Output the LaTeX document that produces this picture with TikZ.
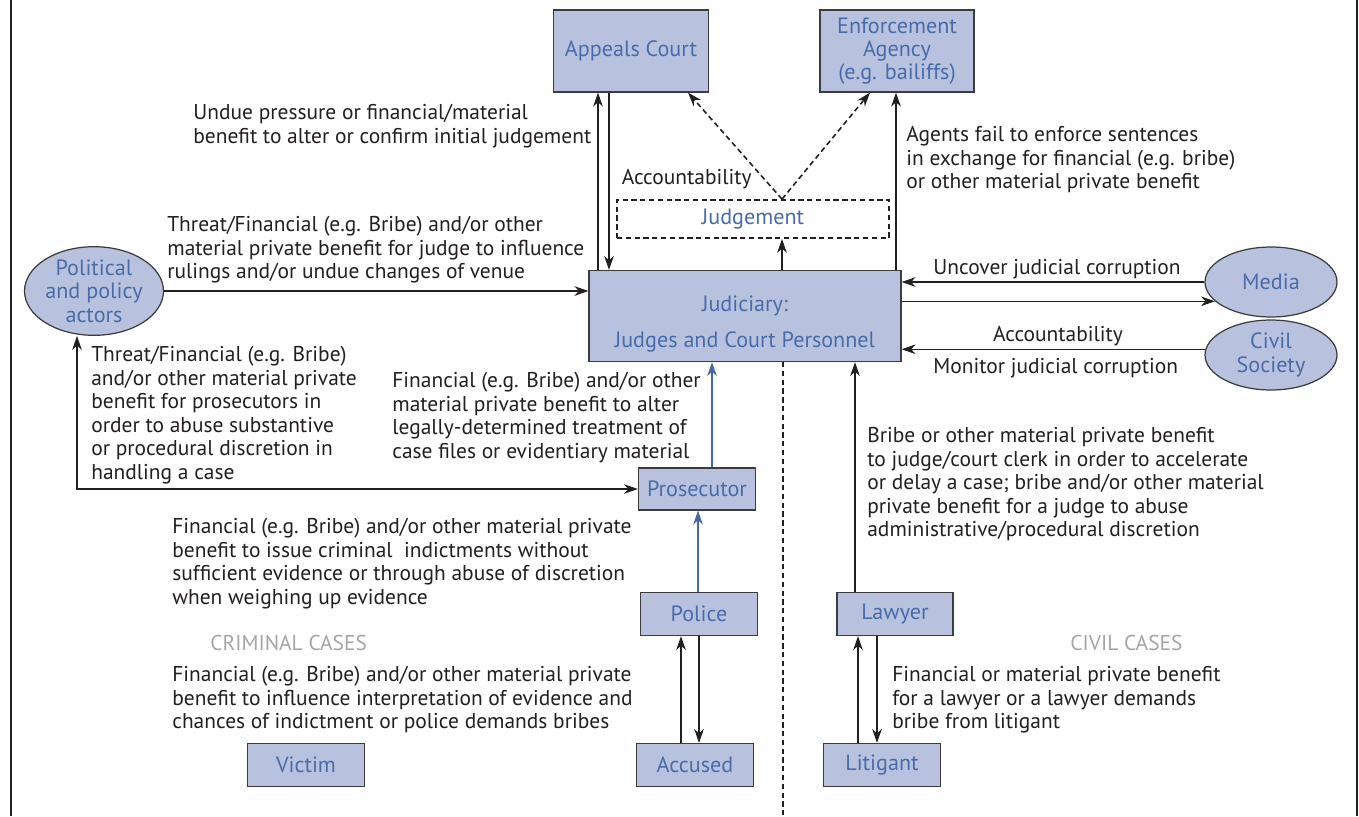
\documentclass[tikz,border=0pt]{standalone}
\usepackage{fontspec}
\setmainfont{PT Sans}
\usetikzlibrary{arrows.meta,shapes.geometric}
\definecolor{boxfill}{RGB}{184,194,222}
\definecolor{boxtext}{RGB}{72,108,170}
\definecolor{boxline}{RGB}{60,60,62}
\definecolor{inktext}{RGB}{35,31,32}
\definecolor{casegray}{RGB}{165,165,165}
\definecolor{flowblue}{RGB}{70,105,165}
\begin{document}
\begin{tikzpicture}[x=0.02cm,y=-0.02cm,
 actor/.style={draw=boxline,fill=boxfill,text=boxtext,line width=0.7pt,font=\fontsize{12.6}{13.3}\selectfont,align=center,inner sep=0,minimum width=2.34cm,minimum height=0.86cm},
 roundactor/.style={actor,ellipse,minimum width=2.64cm,minimum height=1.4cm},
 note/.style={text=inktext,font=\fontsize{12.2}{13.4}\selectfont,align=left,anchor=north west,inner sep=0},
 casenote/.style={text=casegray,font=\fontsize{12.2}{13.4}\selectfont,anchor=west,inner sep=0},
 flow/.style={draw=inktext,line width=0.6pt,-{Stealth[length=8pt,width=5.5pt]}},
 blueflow/.style={flow,draw=flowblue,-{Stealth[length=8pt,width=5.5pt,flowblue]}},
 twoflow/.style={flow,{Stealth[length=8pt,width=5.5pt]}-{Stealth[length=8pt,width=5.5pt]}},
 dashflow/.style={flow,line width=0.9pt,dash pattern=on 3pt off 2pt}]
 \useasboundingbox (0,0) rectangle (1359,816);
 \draw[line width=1.2pt,inktext] (11,0) -- (11,816);
 \draw[line width=1.2pt,inktext] (1357,0) -- (1357,816);

 \node[actor,minimum width=3.1cm,minimum height=1.64cm] (appeals) at (631,51) {Appeals Court};
 \node[actor,minimum width=3.08cm,minimum height=1.64cm] (enforcement) at (897,51) {Enforcement\\Agency\\(e.g. bailiffs)};
 \node[actor,fill=none,draw=inktext,line width=1pt,dash pattern=on 3pt off 2pt,minimum width=5.44cm,minimum height=0.76cm] (judgement) at (753,219) {Judgement};
 \node[actor,minimum width=6.24cm,minimum height=1.82cm] (judiciary) at (745,316) {\rule{0pt}{18pt}Judiciary:\\[7pt]Judges and Court Personnel};
 \node[roundactor,minimum width=2.78cm,minimum height=1.66cm] (political) at (94,291) {Political\\and policy\\actors};
 \node[roundactor] (media) at (1271,282) {Media};
 \node[roundactor] (civil) at (1271,355) {Civil\\Society};
 \node[actor,minimum height=0.84cm] (prosecutor) at (697,489) {Prosecutor};
 \node[actor] (police) at (699,614) {Police};
 \node[actor] (accused) at (695,765) {Accused};
 \node[actor,minimum width=2.32cm] (lawyer) at (895,614) {Lawyer};
 \node[actor] (litigant) at (882,765) {Litigant};
 \node[actor] (victim) at (306,765) {Victim};
 \coordinate (divend) at (783,816);

 \draw[flow] (judiciary.north -| 598,0) -- (appeals.south -| 598,0);
 \draw[flow] (appeals.south -| 609,0) -- (judiciary.north -| 609,0);
 \draw[flow] (judiciary.north -| 782,0) -- (judgement.south -| 782,0);
 \draw[dashflow] (judgement.north -| 782,0) -- (appeals.south -| 688,0);
 \draw[dashflow] (judgement.north -| 782,0) -- (enforcement.south -| 870,0);
 \draw[flow] (judiciary.north -| 896,0) -- (enforcement.south -| 896,0);
 \draw[flow] (political.east) -- (judiciary.west |- political.east);
 \draw[flow] (media.west) -- (judiciary.east |- media.west);
 \draw[flow] (judiciary.east |- media.199) -- (media.199);
 \draw[flow] (civil.175) -- (judiciary.east |- civil.175);
 \draw[twoflow] (political.south -| 77,0) |- (prosecutor.west);
 \draw[blueflow] (prosecutor.north -| 712,0) -- (judiciary.south -| 712,0);
 \draw[blueflow] (police.north -| 698,0) -- (prosecutor.south -| 698,0);
 \draw[flow] (accused.north -| 681,0) -- (police.south -| 681,0);
 \draw[flow] (police.south -| 699,0) -- (accused.north -| 699,0);
 \draw[flow] (lawyer.north -| 855,0) -- (judiciary.south -| 855,0);
 \draw[flow] (litigant.north -| 858,0) -- (lawyer.south -| 858,0);
 \draw[flow] (lawyer.south -| 877,0) -- (litigant.north -| 877,0);
 \draw[inktext,line width=1pt,dash pattern=on 3pt off 2pt] (judiciary.south -| divend) -- (divend);

 \node[note] (appealnote) at (193,104) {Undue pressure or financial/material\\benefit to alter or confirm initial judgement};
 \node[note,anchor=east] (accountup) at (752,179) {Accountability};
 \node[note] (enforcenote) at (906,126) {Agents fail to enforce sentences\\in exchange for financial (e.g. bribe)\\or other material private benefit};
 \node[note] (threatjudge) at (167,216) {Threat/Financial (e.g. Bribe) and/or other\\material private benefit for judge to influence\\rulings and/or undue changes of venue};
 \node[note] (medianote) at (933,259) {Uncover judicial corruption};
 \node[note,anchor=center] (accountright) at (1058,336) {Accountability};
 \node[note] (civilnote) at (933,358) {Monitor judicial corruption};
 \node[note] (threatpros) at (91,346) {Threat/Financial (e.g. Bribe)\\and/or other material private\\benefit for prosecutors in\\order to abuse substantive\\or procedural discretion in\\handling a case};
 \node[note] (prosnote) at (392,372) {Financial (e.g. Bribe) and/or other\\material private benefit to alter\\legally-determined treatment of\\case files or evidentiary material};
 \node[note] (policenote) at (172,518) {Financial (e.g. Bribe) and/or other material private\\benefit to issue criminal\ \ indictments without\\sufficient evidence or through abuse of discretion\\when weighing up evidence};
 \node[casenote] (criminal) at (210,643) {CRIMINAL CASES};
 \node[note] (accusednote) at (172,666) {Financial (e.g. Bribe) and/or other material private\\benefit to influence interpretation of evidence and\\chances of indictment or police demands bribes};
 \node[note] (lawyernote) at (867,427) {Bribe or other material private benefit\\to judge/court clerk in order to accelerate\\or delay a case; bribe and/or other material\\private benefit for a judge to abuse\\administrative/procedural discretion};
 \node[casenote] (civilcases) at (1070,643) {CIVIL CASES};
 \node[note] (litigantnote) at (892,666) {Financial or material private benefit\\for a lawyer or a lawyer demands\\bribe from litigant};
\end{tikzpicture}
\end{document}
